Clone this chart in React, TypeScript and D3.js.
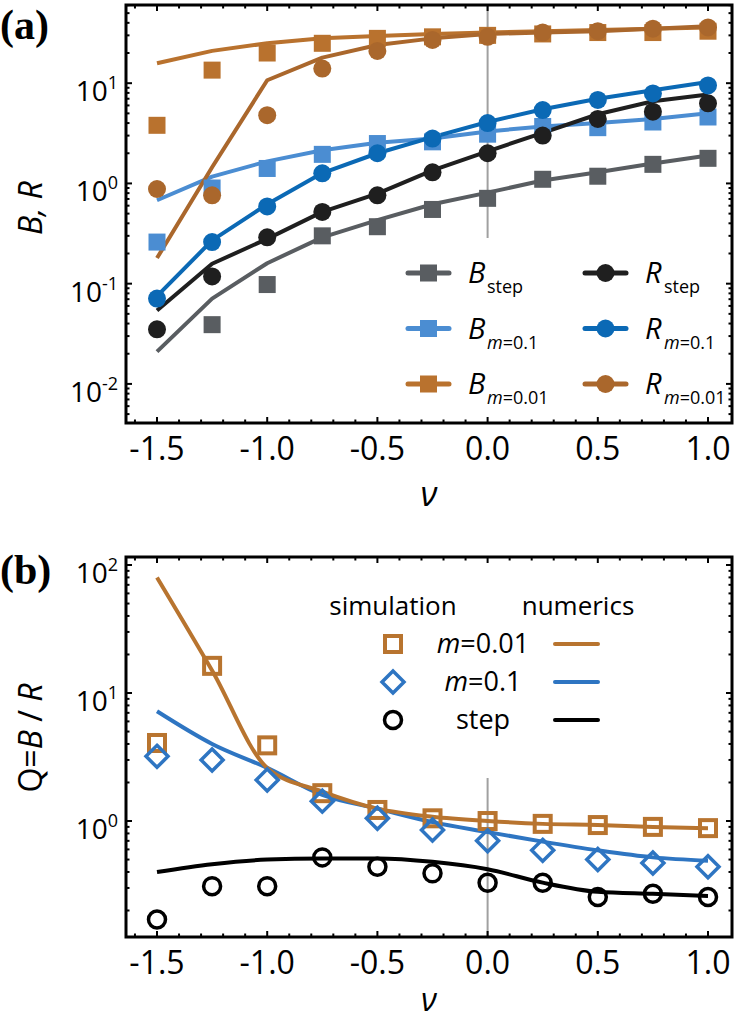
import React from "react";
import * as d3 from "d3";

const nu = [-1.5, -1.25, -1, -0.75, -0.5, -0.25, 0, 0.25, 0.5, 0.75, 1];

// Panel (a): B and R
const bStepSim = [null, 0.039, 0.098, 0.3, 0.37, 0.55, 0.71, 1.1, 1.18, 1.55, 1.78];
const bStepNum = [0.021, 0.071, 0.16, 0.29, 0.43, 0.62, 0.81, 1.07, 1.29, 1.58, 1.9];
const rStepSim = [0.035, 0.118, 0.29, 0.52, 0.76, 1.29, 2.0, 3.0, 4.4, 5.2, 6.3];
const rStepNum = [0.054, 0.158, 0.28, 0.52, 0.79, 1.35, 2.09, 3.2, 4.9, 6.6, 7.7];
const bM1Sim = [0.26, 0.9, 1.41, 1.95, 2.5, 2.6, 3.1, 3.7, 3.6, 4.1, 4.6];
const bM1Num = [0.68, 1.17, 1.66, 2.14, 2.55, 2.8, 3.3, 3.7, 4.0, 4.4, 5.0];
const rM1Sim = [0.071, 0.26, 0.59, 1.26, 2.0, 2.8, 4.0, 5.4, 6.8, 7.9, 9.5];
const rM1Num = [0.075, 0.27, 0.62, 1.27, 2.0, 2.9, 4.1, 5.5, 7.0, 8.5, 10.3];
const bM01Sim = [3.8, 13.5, 20, 25, 28, 29, 30, 31, 32, 32, 33];
const bM01Num = [15.8, 21, 25, 28, 29.5, 31, 32, 33, 34, 35, 36];
const rM01Sim = [0.88, 0.76, 4.8, 14, 21, 27, 29, 32, 33, 35, 36];
const rM01Num = [0.18, 1.45, 10.7, 18, 24, 28, 31, 32, 33, 35, 37];

// Panel (b): Q = B/R
const qM01Sim = [4.07, 16.3, 3.9, 1.65, 1.22, 1.05, 1.0, 0.95, 0.93, 0.9, 0.88];
const qM01Num = [80, 15, 2.6, 1.7, 1.25, 1.08, 1.0, 0.95, 0.93, 0.9, 0.88];
const qM1Sim = [3.2, 3.0, 2.09, 1.43, 1.05, 0.85, 0.7, 0.59, 0.5, 0.47, 0.44];
const qM1Num = [7.2, 4.0, 2.6, 1.6, 1.25, 0.98, 0.82, 0.69, 0.59, 0.52, 0.49];
const qStepSim = [0.17, 0.31, 0.31, 0.52, 0.44, 0.39, 0.33, 0.33, 0.255, 0.27, 0.255];
const qStepNum = [0.4, 0.46, 0.5, 0.51, 0.51, 0.48, 0.42, 0.33, 0.28, 0.27, 0.26];

const xMajorTicks = [-1.5, -1.0, -0.5, 0.0, 0.5, 1.0];
const xTickLabels = ["-1.5", "-1.0", "-0.5", "0.0", "0.5", "1.0"];
const yExpA = [-2, -1, 0, 1];
const yExpB = [0, 1, 2];

const C = {
  gray: "#595d61",
  black: "#1f1f1f",
  lblue: "#4b8dd2",
  dblue: "#0b69b5",
  orangeB: "#b9722e",
  orangeR: "#aa672c",
  qOrange: "#b8742f",
  qBlue: "#2e75c2",
  qBlack: "#000000",
};

const FONT = "'Open Sans', 'DejaVu Sans', sans-serif";

type Frame = { left: number; right: number; top: number; bottom: number };

function Axes({ f, x, y, expTicks }: { f: Frame; x: any; y: any; expTicks: number[] }) {
  const [d0, d1] = y.domain();
  const minor: number[] = [];
  for (let e = Math.floor(Math.log10(d0)); e <= Math.ceil(Math.log10(d1)); e++) {
    for (let k = 2; k <= 9; k++) {
      const v = k * Math.pow(10, e);
      if (v > d0 && v < d1) minor.push(v);
    }
  }
  const xMinor = d3.range(-16, 11).map((i) => i / 10).filter((v) => v > x.domain()[0] && v < x.domain()[1]);
  const major = 6;
  const mn = 3.5;
  return (
    <g>
      {xMinor.map((v, i) => {
        const isMaj = Math.abs(v * 2 - Math.round(v * 2)) < 1e-6;
        const L = isMaj ? major : mn;
        return (
          <g key={"xt" + i} stroke="#000" strokeWidth={2}>
            <line x1={x(v)} x2={x(v)} y1={f.bottom} y2={f.bottom - L} />
            <line x1={x(v)} x2={x(v)} y1={f.top} y2={f.top + L} />
          </g>
        );
      })}
      {minor.map((v, i) => (
        <g key={"ym" + i} stroke="#000" strokeWidth={2}>
          <line x1={f.left} x2={f.left + mn} y1={y(v)} y2={y(v)} />
          <line x1={f.right} x2={f.right - mn} y1={y(v)} y2={y(v)} />
        </g>
      ))}
      {expTicks.map((e) => (
        <g key={"yM" + e} stroke="#000" strokeWidth={2}>
          <line x1={f.left} x2={f.left + major} y1={y(Math.pow(10, e))} y2={y(Math.pow(10, e))} />
          <line x1={f.right} x2={f.right - major} y1={y(Math.pow(10, e))} y2={y(Math.pow(10, e))} />
        </g>
      ))}
      <rect x={f.left} y={f.top} width={f.right - f.left} height={f.bottom - f.top} fill="none" stroke="#000" strokeWidth={3} />
      {xMajorTicks.map((v, i) => (
        <text key={"xl" + i} x={x(v)} y={f.bottom + 37} textAnchor="middle" fontFamily={FONT} fontSize={32} fill="#000">
          {xTickLabels[i]}
        </text>
      ))}
      {expTicks.map((e) => (
        <text key={"yl" + e} x={f.left - 8} y={y(Math.pow(10, e)) + 18} textAnchor="end" fontFamily={FONT} fontSize={28} fill="#000">
          10<tspan dy={-12} fontSize={18}>{String(e)}</tspan>
        </text>
      ))}
    </g>
  );
}

function Square({ cx, cy, s, fill }: { cx: number; cy: number; s: number; fill: string }) {
  return <rect x={cx - s / 2} y={cy - s / 2} width={s} height={s} fill={fill} />;
}

export default function App() {
  // Panel (a)
  const fa: Frame = { left: 126, right: 732, top: 5, bottom: 423 };
  const xa = d3.scaleLinear().domain([-1.5 - 31 / 220.4, 1.0 + 24 / 220.4]).range([fa.left, fa.right]);
  const ya = d3.scaleLog().domain([Math.pow(10, -2.39), Math.pow(10, 1.78)]).range([fa.bottom, fa.top]);

  // Panel (b)
  const fb: Frame = { left: 126, right: 732, top: 557, bottom: 937 };
  const xb = d3.scaleLinear().domain(xa.domain()).range([fb.left, fb.right]);
  const yb = d3.scaleLog().domain([Math.pow(10, -0.906), Math.pow(10, 2.0625)]).range([fb.bottom, fb.top]);

  const lineA = (vals: (number | null)[]) =>
    d3.line<number>()
      .defined((_, i) => vals[i] != null)
      .x((_, i) => xa(nu[i]))
      .y((_, i) => ya(vals[i] as number))(nu as any) || "";
  const lineB = (vals: number[]) =>
    d3.line<number>()
      .curve(d3.curveMonotoneX)
      .x((_, i) => xb(nu[i]))
      .y((_, i) => yb(vals[i]))(nu as any) || "";

  const seriesA = [
    { num: bStepNum, sim: bStepSim, color: C.gray, shape: "sq" },
    { num: bM1Num, sim: bM1Sim, color: C.lblue, shape: "sq" },
    { num: bM01Num, sim: bM01Sim, color: C.orangeB, shape: "sq" },
    { num: rStepNum, sim: rStepSim, color: C.black, shape: "ci" },
    { num: rM1Num, sim: rM1Sim, color: C.dblue, shape: "ci" },
    { num: rM01Num, sim: rM01Sim, color: C.orangeR, shape: "ci" },
  ];

  const legendA = [
    { color: C.gray, shape: "sq", base: "B", sub: "step", col: 0, row: 0 },
    { color: C.lblue, shape: "sq", base: "B", sub: "m=0.1", col: 0, row: 1 },
    { color: C.orangeB, shape: "sq", base: "B", sub: "m=0.01", col: 0, row: 2 },
    { color: C.black, shape: "ci", base: "R", sub: "step", col: 1, row: 0 },
    { color: C.dblue, shape: "ci", base: "R", sub: "m=0.1", col: 1, row: 1 },
    { color: C.orangeR, shape: "ci", base: "R", sub: "m=0.01", col: 1, row: 2 },
  ];
  const legRowY = [273, 328.5, 384];
  const legColX = [408, 585];

  const renderSub = (s: string) => {
    if (s.startsWith("m=")) {
      return (
        <>
          <tspan fontStyle="italic">m</tspan>
          <tspan>{s.slice(1)}</tspan>
        </>
      );
    }
    return <tspan>{s}</tspan>;
  };

  const diamond = (cx: number, cy: number, r: number) =>
    `M${cx},${cy - r}L${cx + r},${cy}L${cx},${cy + r}L${cx - r},${cy}Z`;

  return (
    <svg width={740} height={1020} style={{ position: "absolute", left: 0, top: 0, background: "#fff" }}>
      <defs>
        <clipPath id="clipA">
          <rect x={fa.left} y={fa.top} width={fa.right - fa.left} height={fa.bottom - fa.top} />
        </clipPath>
        <clipPath id="clipB">
          <rect x={fb.left} y={fb.top} width={fb.right - fb.left} height={fb.bottom - fb.top} />
        </clipPath>
      </defs>
      <rect x={0} y={0} width={740} height={1020} fill="#fff" />

      {/* Panel (a) */}
      <line x1={xa(0)} x2={xa(0)} y1={fa.top} y2={238} stroke="#a0a0a0" strokeWidth={2} />
      <g clipPath="url(#clipA)">
        {seriesA.map((s, k) => (
          <path key={"la" + k} d={lineA(s.num)} fill="none" stroke={s.color} strokeWidth={4} strokeLinejoin="round" />
        ))}
        {seriesA.map((s, k) => (
          <g key={"ma" + k} fill={s.color}>
            {s.sim.map((v, i) =>
              v == null ? null : s.shape === "sq" ? (
                <Square key={i} cx={xa(nu[i])} cy={ya(v)} s={17} fill={s.color} />
              ) : (
                <circle key={i} cx={xa(nu[i])} cy={ya(v)} r={9} />
              )
            )}
          </g>
        ))}
      </g>
      <Axes f={fa} x={xa} y={ya} expTicks={yExpA} />

      {legendA.map((l, k) => {
        const x0 = legColX[l.col];
        const cy = legRowY[l.row];
        return (
          <g key={"lg" + k}>
            <line x1={x0} x2={x0 + 41} y1={cy} y2={cy} stroke={l.color} strokeWidth={5} strokeLinecap="round" />
            {l.shape === "sq" ? (
              <Square cx={x0 + 20.5} cy={cy} s={17} fill={l.color} />
            ) : (
              <circle cx={x0 + 20.5} cy={cy} r={9} fill={l.color} />
            )}
            <text x={x0 + 60} y={cy + 10} fontFamily={FONT} fontSize={29} fontStyle="italic" fill="#000">
              {l.base}
            </text>
            <text x={x0 + 61 + 18} y={cy + 20} fontFamily={FONT} fontSize={18} fill="#000">
              {renderSub(l.sub)}
            </text>
          </g>
        );
      })}

      <text x={0} y={39} fontFamily="'Liberation Serif', serif" fontWeight="bold" fontSize={42} fill="#000">(a)</text>
      <text transform={`translate(42,208) rotate(-90)`} textAnchor="middle" fontFamily={FONT} fontSize={32} fontStyle="italic" fill="#000">
        B, R
      </text>
      <text x={(fa.left + fa.right) / 2} y={506} textAnchor="middle" fontFamily={FONT} fontSize={34} fontStyle="italic" fill="#000">ν</text>

      {/* Panel (b) */}
      <line x1={xb(0)} x2={xb(0)} y1={778} y2={fb.bottom} stroke="#a0a0a0" strokeWidth={2} />
      <g clipPath="url(#clipB)">
        <path d={lineB(qStepNum)} fill="none" stroke={C.qBlack} strokeWidth={4} />
        <path d={lineB(qM1Num)} fill="none" stroke={C.qBlue} strokeWidth={4} />
        <path d={lineB(qM01Num)} fill="none" stroke={C.qOrange} strokeWidth={4} />
        {qM01Sim.map((v, i) => (
          <rect key={"qs" + i} x={xb(nu[i]) - 8} y={yb(v) - 8} width={16} height={16} fill="none" stroke={C.qOrange} strokeWidth={4} />
        ))}
        {qM1Sim.map((v, i) => (
          <path key={"qd" + i} d={diamond(xb(nu[i]), yb(v), 11)} fill="none" stroke={C.qBlue} strokeWidth={3.5} />
        ))}
        {qStepSim.map((v, i) => (
          <circle key={"qc" + i} cx={xb(nu[i])} cy={yb(v)} r={8.5} fill="none" stroke={C.qBlack} strokeWidth={3.5} />
        ))}
      </g>
      <Axes f={fb} x={xb} y={yb} expTicks={yExpB} />

      {/* legend (b) */}
      <text x={393} y={615} textAnchor="middle" fontFamily={FONT} fontSize={26} fill="#000">simulation</text>
      <text x={578} y={615} textAnchor="middle" fontFamily={FONT} fontSize={26} fill="#000">numerics</text>
      <rect x={393 - 8} y={644 - 8} width={16} height={16} fill="none" stroke={C.qOrange} strokeWidth={4} />
      <path d={diamond(393, 682, 11)} fill="none" stroke={C.qBlue} strokeWidth={3.5} />
      <circle cx={393} cy={720} r={8.5} fill="none" stroke={C.qBlack} strokeWidth={3.5} />
      <text x={483} y={653} textAnchor="middle" fontFamily={FONT} fontSize={27} fill="#000">
        <tspan fontStyle="italic">m</tspan>=0.01
      </text>
      <text x={483} y={691} textAnchor="middle" fontFamily={FONT} fontSize={27} fill="#000">
        <tspan fontStyle="italic">m</tspan>=0.1
      </text>
      <text x={483} y={729} textAnchor="middle" fontFamily={FONT} fontSize={27} fill="#000">step</text>
      <line x1={555} x2={598} y1={644} y2={644} stroke={C.qOrange} strokeWidth={4} strokeLinecap="round" />
      <line x1={555} x2={598} y1={682} y2={682} stroke={C.qBlue} strokeWidth={4} strokeLinecap="round" />
      <line x1={555} x2={598} y1={720} y2={720} stroke={C.qBlack} strokeWidth={4} strokeLinecap="round" />

      <text x={0} y={584} fontFamily="'Liberation Serif', serif" fontWeight="bold" fontSize={42} fill="#000">(b)</text>
      <text transform={`translate(42,738) rotate(-90)`} textAnchor="middle" fontFamily={FONT} fontSize={32} fill="#000">
        Q=<tspan fontStyle="italic">B</tspan> / <tspan fontStyle="italic">R</tspan>
      </text>
      <text x={(fb.left + fb.right) / 2} y={1011} textAnchor="middle" fontFamily={FONT} fontSize={32} fontStyle="italic" fill="#000">ν</text>
    </svg>
  );
}
